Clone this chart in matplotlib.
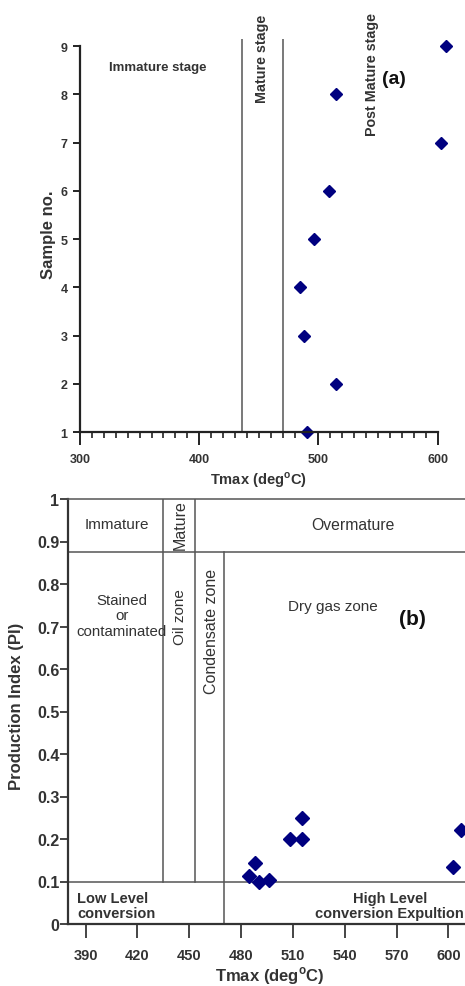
import matplotlib
matplotlib.use("Agg")
import matplotlib.pyplot as plt
import numpy as np

plt.rcParams['font.family'] = ['Liberation Sans', 'DejaVu Sans']

# ---- data ----
sample_no = [1, 2, 3, 4, 5, 6, 7, 8, 9]
tmax = [490.5, 515, 488, 484.5, 496, 508.5, 602.5, 515, 607]
pi = [0.100, 0.200, 0.143, 0.112, 0.104, 0.200, 0.133, 0.250, 0.222]

top_xticks = [300, 400, 500, 600]
top_yticks = [1, 2, 3, 4, 5, 6, 7, 8, 9]
top_stage_bounds = [436, 470]

bot_xticks = [390, 420, 450, 480, 510, 540, 570, 600]
bot_yticks = [0, 0.1, 0.2, 0.3, 0.4, 0.5, 0.6, 0.7, 0.8, 0.9, 1]
bot_ytick_labels = ['0', '0.1', '0.2', '0.3', '0.4', '0.5', '0.6', '0.7', '0.8', '0.9', '1']
bot_bounds = [435, 453.5, 470]
pi_low, pi_high = 0.1, 0.875

W, H = 465, 987
fig = plt.figure(figsize=(W / 100, H / 100), dpi=100)

TXT = '#333333'
LN = '#555555'
MK = '#000080'

def px_axes(l, t, r, b):
    return fig.add_axes([l / W, 1 - b / H, (r - l) / W, (b - t) / H])

# ---------------- panel (a) ----------------
ax1 = px_axes(80, 39.8, 449.6, 433)
ax1.set_xlim(300, 610)
ax1.set_ylim(1, 9.15)
for s in ['top', 'right']:
    ax1.spines[s].set_visible(False)
ax1.spines['left'].set_bounds(1, 9)
ax1.spines['bottom'].set_bounds(300, 600)
for s in ['left', 'bottom']:
    ax1.spines[s].set_linewidth(1.6)
    ax1.spines[s].set_color('#222222')
ax1.set_xticks(top_xticks)
ax1.set_xticks(np.arange(310, 600, 10), minor=True)
ax1.set_yticks(top_yticks)
ax1.tick_params(axis='x', which='major', length=9, width=1.4, pad=6, color='#222222',
                labelsize=9, labelcolor=TXT)
ax1.tick_params(axis='x', which='minor', length=4.5, width=1.2, color='#222222')
ax1.tick_params(axis='y', which='major', length=5, width=1.4, pad=4, color='#222222',
                labelsize=9, labelcolor=TXT)
for lab in ax1.get_xticklabels() + ax1.get_yticklabels():
    lab.set_fontweight('bold')

for xb in top_stage_bounds:
    ax1.axvline(xb, color=LN, lw=1.1)

ax1.plot(tmax, sample_no, linestyle='none', marker='D', markersize=6.5, color=MK, clip_on=False)

ax1.text(365, 8.56, 'Immature stage', ha='center', va='center', fontsize=9.5,
         fontweight='bold', color=TXT)
ax1.text(453, 8.75, 'Mature stage', ha='center', va='center', rotation=90, fontsize=10.3,
         fontweight='bold', color=TXT)
ax1.text(545, 8.44, 'Post Mature stage', ha='center', va='center', rotation=90, fontsize=10.3,
         fontweight='bold', color=TXT)
ax1.text(563, 8.32, '(a)', ha='center', va='center', fontsize=14, fontweight='bold',
         color='#111111')

fig.text(48 / W, 1 - 235 / H, 'Sample no.', rotation=90, ha='center', va='center',
         fontsize=12, fontweight='bold', color=TXT)
fig.text(258 / W, 1 - 480 / H, 'Tmax (deg$^{\\mathregular{o}}$C)', ha='center', va='center',
         fontsize=10.5, fontweight='bold', color=TXT)

# ---------------- panel (b) ----------------
ax2 = px_axes(68.3, 500, 465.7, 925)
ax2.set_xlim(380, 610)
ax2.set_ylim(0, 1)
ax2.spines['right'].set_visible(False)
ax2.spines['top'].set_color(LN)
ax2.spines['top'].set_linewidth(1.1)
for s in ['left', 'bottom']:
    ax2.spines[s].set_linewidth(1.6)
    ax2.spines[s].set_color('#333333')
ax2.set_xticks(bot_xticks)
ax2.set_yticks(bot_yticks)
ax2.set_yticklabels(bot_ytick_labels)
ax2.tick_params(axis='x', length=10, width=1.4, pad=7.5, color='#444444',
                labelsize=10.5, labelcolor=TXT)
ax2.tick_params(axis='y', length=6, width=1.4, pad=0.5, color='#444444',
                labelsize=11.5, labelcolor=TXT)
for lab in ax2.get_xticklabels() + ax2.get_yticklabels():
    lab.set_fontweight('bold')

ax2.axhline(pi_high, color=LN, lw=1.1)
ax2.axhline(pi_low, color=LN, lw=1.1)
ax2.plot([bot_bounds[0], bot_bounds[0]], [pi_low, 1], color=LN, lw=1.1)
ax2.plot([bot_bounds[1], bot_bounds[1]], [pi_low, 1], color=LN, lw=1.1)
ax2.plot([bot_bounds[2], bot_bounds[2]], [0, pi_high], color=LN, lw=1.1)

ax2.plot(tmax, pi, linestyle='none', marker='D', markersize=7.5, color=MK, clip_on=False)

ax2.text(408, 0.941, 'Immature', ha='center', va='center', fontsize=11, color=TXT)
ax2.text(444.6, 0.94, 'Mature', ha='center', va='center', rotation=90, fontsize=11.5, color=TXT)
ax2.text(545, 0.94, 'Overmature', ha='center', va='center', fontsize=11.3, color=TXT)
ax2.text(411, 0.726, 'Stained\nor\ncontaminated', ha='center', va='center', fontsize=10.8,
         color=TXT, linespacing=1.12)
ax2.text(444.6, 0.725, 'Oil zone', ha='center', va='center', rotation=90, fontsize=11, color=TXT)
ax2.text(463, 0.69, 'Condensate zone', ha='center', va='center', rotation=90, fontsize=11.5,
         color=TXT)
ax2.text(533, 0.749, 'Dry gas zone', ha='center', va='center', fontsize=11, color=TXT)
ax2.text(579, 0.718, '(b)', ha='center', va='center', fontsize=15, fontweight='bold',
         color='#111111')
ax2.text(385, 0.044, 'Low Level\nconversion', ha='left', va='center', fontsize=10.5,
         fontweight='bold', color=TXT, linespacing=1.1)
ax2.text(566, 0.044, 'High Level\nconversion Expultion', ha='center', va='center', fontsize=10.5,
         fontweight='bold', color=TXT, linespacing=1.1)

fig.text(17 / W, 1 - 706 / H, 'Production Index (PI)', rotation=90, ha='center', va='center',
         fontsize=12, fontweight='bold', color=TXT)
fig.text(270 / W, 1 - 976 / H, 'Tmax (deg$^{\\mathregular{o}}$C)', ha='center', va='center',
         fontsize=12, fontweight='bold', color=TXT)

fig.savefig('out.png', dpi=100)
